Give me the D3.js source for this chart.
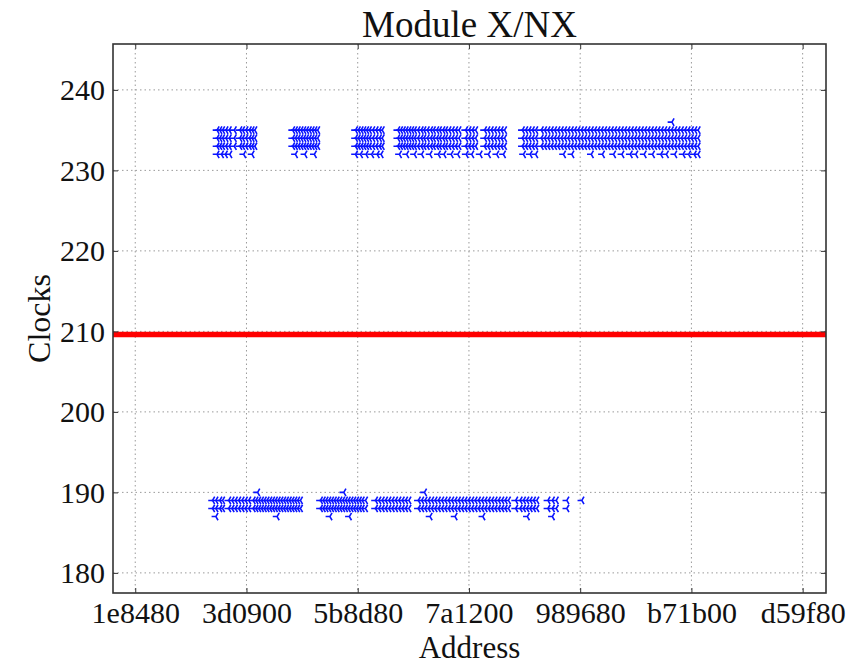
<!DOCTYPE html>
<html>
<head>
<meta charset="utf-8">
<script src="https://cdn.jsdelivr.net/npm/d3@7"></script>
<style>
  html, body { margin: 0; padding: 0; background: #fff; }
  svg { display: block; }
  text { font-family: "Liberation Serif", "Times New Roman", serif; fill: #111; }
</style>
</head>
<body>
<svg id="chart" width="859" height="666"></svg>
<script>
// ---------- data (addresses in millions, decimal) ----------
const xTickValues = [2, 4, 6, 8, 10, 12, 14];
const xTickLabels = ["1e8480", "3d0900", "5b8d80", "7a1200", "989680", "b71b00", "d59f80"];
const yTickValues = [180, 190, 200, 210, 220, 230, 240];
const yTickLabels = ["180", "190", "200", "210", "220", "230", "240"];

// upper cluster: addresses present at clocks 235, 234, 233
const topAddr = [
  3.47,3.52,3.57,3.63,3.69,3.78,3.88,3.93,3.99,4.05,4.10,4.15,
  4.83,4.88,4.93,4.98,5.03,5.08,5.13,5.18,5.23,5.28,
  5.96,6.01,6.06,6.11,6.16,6.21,6.27,6.33,6.39,6.44,
  6.72,6.77,6.82,6.87,6.92,6.97,7.02,7.08,7.14,7.19,7.25,7.31,7.36,7.42,7.47,7.53,7.58,7.64,7.70,7.76,7.82,
  7.94,8.00,8.06,8.12,8.28,8.34,8.40,8.46,8.52,8.58,8.64,
  8.96,9.02,9.08,9.14,9.20,9.30,9.36,9.42,9.48,9.54,9.60,9.66,9.72,9.78,9.84,9.90,9.96,10.02,10.08,10.14,
  10.20,10.26,10.32,10.38,10.44,10.50,10.56,10.62,10.68,10.74,10.80,10.86,10.92,10.98,11.04,11.10,11.16,
  11.22,11.28,11.34,11.40,11.46,11.52,11.58,11.64,11.70,11.76,11.82,11.88,11.94,12.00,12.06,12.12
];
const topClocks = [235, 234, 233];
// sparser row at clock 232
const top232 = [
  3.47,3.55,3.62,3.70,3.95,4.10,
  4.88,5.05,5.22,
  5.96,6.05,6.15,6.25,6.35,6.42,
  6.75,6.88,7.02,7.15,7.30,7.45,7.55,7.68,7.80,7.95,8.05,8.20,8.35,8.50,8.62,
  8.98,9.10,9.20,9.70,9.85,10.20,10.40,10.60,10.75,10.90,11.00,11.15,11.30,11.45,11.55,11.70,11.85,11.95,12.05,12.12
];
const top236 = [11.65];

// lower cluster: addresses present at clocks 189, 188
const bottomAddr = [
  3.39,3.45,3.52,3.57,3.68,3.74,3.80,3.86,3.92,3.98,4.04,
  4.12,4.17,4.22,4.27,4.32,4.37,4.42,4.47,4.52,4.57,4.62,4.67,4.72,4.77,4.82,4.87,4.92,4.97,
  5.33,5.38,5.43,5.48,5.53,5.58,5.63,5.68,5.73,5.78,5.83,5.88,5.93,5.98,6.03,6.08,6.14,
  6.32,6.38,6.44,6.50,6.56,6.62,6.68,6.74,6.80,6.86,6.92,
  7.09,7.15,7.21,7.27,7.33,7.39,7.45,7.51,7.57,7.63,7.69,7.75,7.81,7.87,7.93,7.99,8.05,8.11,8.17,
  8.23,8.29,8.35,8.41,8.47,8.53,8.59,8.65,8.71,8.84,8.92,8.98,9.04,9.10,9.16,9.22,
  9.42,9.50,9.57,9.76
];
const bottomClocks = [189, 188];
const bottom187 = [3.45, 4.55, 5.50, 5.85, 7.30, 7.75, 8.25, 9.05, 9.50];
const bottom190 = [4.20, 5.75, 7.20];
const single189 = [10.03];

// threshold line
const redLineAddr = [1.60, 14.42];
const redLineClock = 209.6;

// ---------- layout ----------
const svg = d3.select("#chart");
const M = { left: 113, right: 826, top: 44, bottom: 593 };

const x = d3.scaleLinear().domain([1.60, 14.42]).range([M.left, M.right]);
const y = d3.scaleLinear().domain([177.5, 245.7]).range([M.bottom, M.top]);

// grid
const grid = svg.append("g");
grid.selectAll("line.gx").data(xTickValues).enter().append("line")
  .attr("x1", d => x(d)).attr("x2", d => x(d))
  .attr("y1", M.top).attr("y2", M.bottom)
  .attr("stroke", "#9a9a9a").attr("stroke-width", 1).attr("stroke-dasharray", "1.5,3");
grid.selectAll("line.gy").data(yTickValues).enter().append("line")
  .attr("y1", d => y(d)).attr("y2", d => y(d))
  .attr("x1", M.left).attr("x2", M.right)
  .attr("stroke", "#9a9a9a").attr("stroke-width", 1).attr("stroke-dasharray", "1.5,3");

// points
const pts = [];
topClocks.forEach(c => topAddr.forEach(a => pts.push([a, c])));
top232.forEach(a => pts.push([a, 232]));
top236.forEach(a => pts.push([a, 236]));
bottomClocks.forEach(c => bottomAddr.forEach(a => pts.push([a, c])));
bottom187.forEach(a => pts.push([a, 187]));
bottom190.forEach(a => pts.push([a, 190]));
single189.forEach(a => pts.push([a, 189]));

const r = 4.3;
const triLeft = `M0,0L${-r},0M0,0L${r*0.5},${-r*0.87}M0,0L${r*0.5},${r*0.87}`;
svg.append("g").selectAll("path").data(pts).enter().append("path")
  .attr("transform", d => `translate(${x(d[0])},${y(d[1])})`)
  .attr("d", triLeft)
  .attr("fill", "none")
  .attr("stroke", "#0a14ff")
  .attr("stroke-width", 1.6);

// red line
svg.append("path")
  .datum(redLineAddr.map(a => [a, redLineClock]))
  .attr("d", d3.line().x(d => x(d[0])).y(d => y(d[1])))
  .attr("stroke", "#ff0000").attr("stroke-width", 5.5).attr("fill", "none");

// frame
svg.append("rect")
  .attr("x", M.left).attr("y", M.top)
  .attr("width", M.right - M.left).attr("height", M.bottom - M.top)
  .attr("fill", "none").attr("stroke", "#333").attr("stroke-width", 1.6);

// axes (ticks inward, like matplotlib classic)
const tickLen = 5;
const xAxisB = d3.axisBottom(x).tickValues(xTickValues)
  .tickFormat((d, i) => xTickLabels[i]).tickSizeInner(-tickLen).tickSizeOuter(0).tickPadding(10);
const gxb = svg.append("g").attr("transform", `translate(0,${M.bottom})`).call(xAxisB);
gxb.select(".domain").remove();
gxb.selectAll("line").attr("stroke", "#333");
gxb.selectAll("text").attr("font-size", 30).attr("font-family", "Liberation Serif")
  .attr("fill", "#111").attr("dy", null).attr("y", 30);

const xAxisT = d3.axisTop(x).tickValues(xTickValues).tickFormat("").tickSizeInner(-tickLen).tickSizeOuter(0);
const gxt = svg.append("g").attr("transform", `translate(0,${M.top})`).call(xAxisT);
gxt.select(".domain").remove();
gxt.selectAll("line").attr("stroke", "#333");

const yAxisL = d3.axisLeft(y).tickValues(yTickValues)
  .tickFormat((d, i) => yTickLabels[i]).tickSizeInner(-tickLen).tickSizeOuter(0).tickPadding(9);
const gyl = svg.append("g").attr("transform", `translate(${M.left},0)`).call(yAxisL);
gyl.select(".domain").remove();
gyl.selectAll("line").attr("stroke", "#333");
gyl.selectAll("text").attr("font-size", 30).attr("font-family", "Liberation Serif")
  .attr("fill", "#111").attr("dy", "0.33em").attr("x", -8);

const yAxisR = d3.axisRight(y).tickValues(yTickValues).tickFormat("").tickSizeInner(-tickLen).tickSizeOuter(0);
const gyr = svg.append("g").attr("transform", `translate(${M.right},0)`).call(yAxisR);
gyr.select(".domain").remove();
gyr.selectAll("line").attr("stroke", "#333");

// titles
svg.append("text").attr("x", (M.left + M.right) / 2).attr("y", 37)
  .attr("text-anchor", "middle").attr("font-size", 37).text("Module X/NX");
svg.append("text").attr("x", (M.left + M.right) / 2).attr("y", 658)
  .attr("text-anchor", "middle").attr("font-size", 31).text("Address");
svg.append("text").attr("transform", `translate(50,${(M.top + M.bottom) / 2}) rotate(-90)`)
  .attr("text-anchor", "middle").attr("font-size", 32).text("Clocks");
</script>
</body>
</html>
